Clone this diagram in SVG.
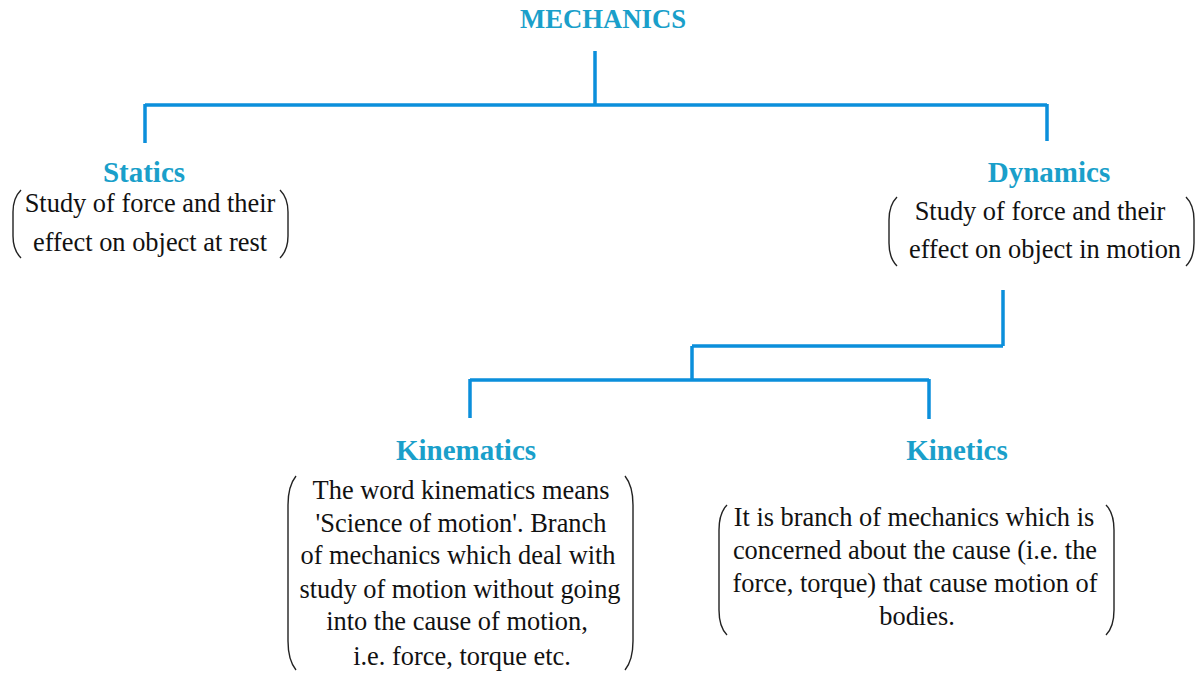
<svg xmlns="http://www.w3.org/2000/svg" width="1197" height="673" viewBox="0 0 1197 673">
<style>
.t{font-family:"Liberation Serif","Times New Roman",serif;font-weight:bold;font-size:29px;fill:#1a9fca;text-anchor:middle}
.m{font-size:26.7px}
.b{font-family:"Liberation Serif","Times New Roman",serif;font-size:26.4px;fill:#111;text-anchor:middle}
.c{fill:none;stroke:#0b8fdb;stroke-width:3.5}
.p{fill:none;stroke:#222;stroke-width:1.4}
</style>
<rect width="1197" height="673" fill="#fff"/>
<g id="connectors">
<path class="c" d="M595,51 V105 M145,105 H1047 M145,104 V143 M1047,104 V141"/>
<path class="c" d="M1003,290 V346 M692,346 H1003 M692,346 V380 M470,380 H929 M470,379 V418 M929,379 V419"/>
</g>
<g id="mechanics">
<text class="t m" x="603" y="28">MECHANICS</text>
</g>
<g id="statics">
<text class="t" x="144" y="182">Statics</text>
<path class="p" d="M21,190 Q13,198 13,212 V236 Q13,250 21,258"/>
<path class="p" d="M280,190 Q288,198 288,212 V236 Q288,250 280,258"/>
<text class="b" x="150" y="212">Study of force and their</text>
<text class="b" x="150" y="251">effect on object at rest</text>
</g>
<g id="dynamics">
<text class="t" x="1049" y="182">Dynamics</text>
<path class="p" d="M897,197 Q889,205 889,220 V243 Q889,258 897,266"/>
<path class="p" d="M1186,197 Q1194,205 1194,220 V243 Q1194,258 1186,266"/>
<text class="b" x="1040" y="220">Study of force and their</text>
<text class="b" x="1045" y="258">effect on object in motion</text>
</g>
<g id="kinematics">
<text class="t" x="466" y="460">Kinematics</text>
<path class="p" d="M296,476 Q288,486 288,505 V641 Q288,660 296,670"/>
<path class="p" d="M625,476 Q633,486 633,505 V641 Q633,660 625,670"/>
<text class="b" x="461" y="499">The word kinematics means</text>
<text class="b" x="461" y="532">'Science of motion'. Branch</text>
<text class="b" x="458" y="564">of mechanics which deal with</text>
<text class="b" x="460" y="598">study of motion without going</text>
<text class="b" x="457" y="630">into the cause of motion,</text>
<text class="b" x="462" y="665">i.e. force, torque etc.</text>
</g>
<g id="kinetics">
<text class="t" x="957" y="460">Kinetics</text>
<path class="p" d="M727,505 Q719,513 719,530 V610 Q719,627 727,635"/>
<path class="p" d="M1106,505 Q1114,513 1114,530 V610 Q1114,627 1106,635"/>
<text class="b" x="914" y="526">It is branch of mechanics which is</text>
<text class="b" x="915" y="559">concerned about the cause (i.e. the</text>
<text class="b" x="915" y="592">force, torque) that cause motion of</text>
<text class="b" x="917" y="625">bodies.</text>
</g>
</svg>
